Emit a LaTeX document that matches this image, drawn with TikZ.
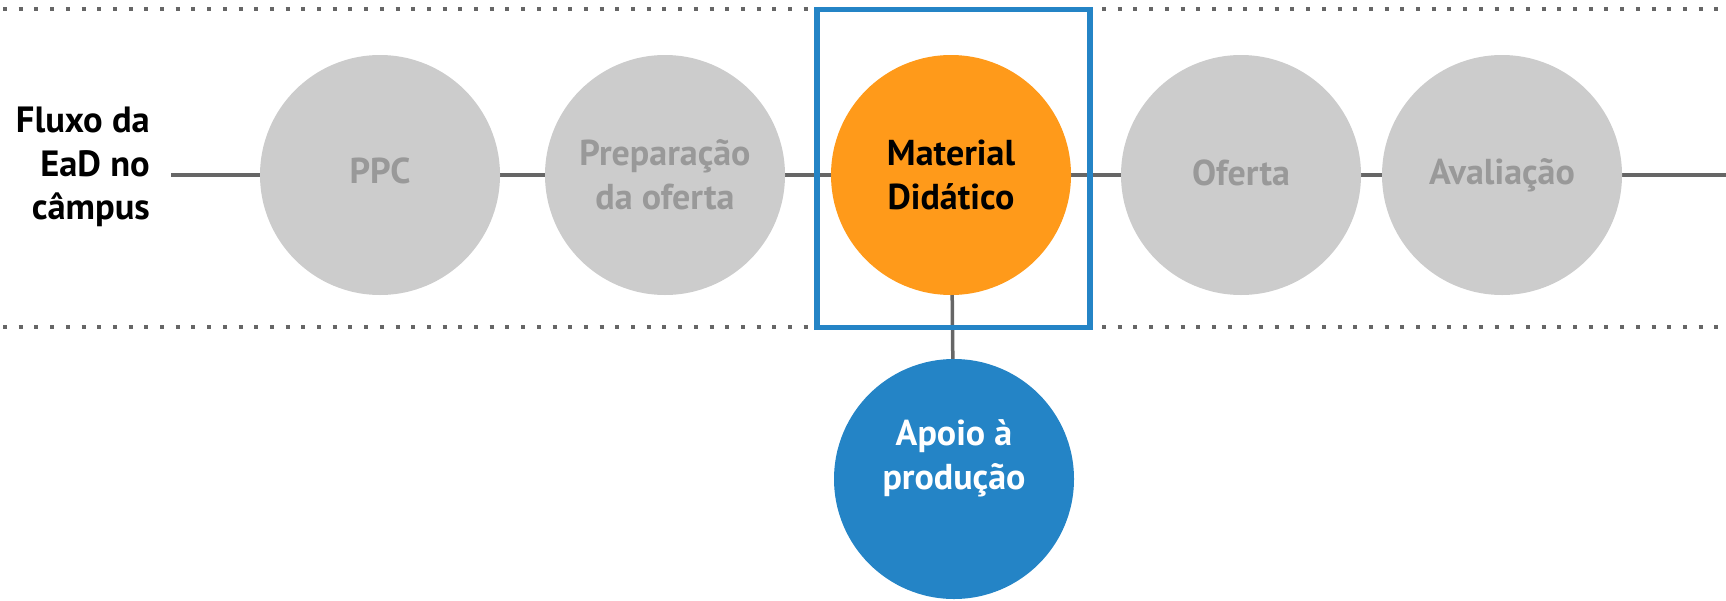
\documentclass[tikz,border=0pt]{standalone}
\usepackage{fontspec}
\setmainfont{PT Sans}
\usepackage{tikz}
\pgfdeclarelayer{bg}
\pgfsetlayers{bg,main}
\definecolor{stagegray}{HTML}{CCCCCC}
\definecolor{textgray}{HTML}{999999}
\definecolor{linegray}{HTML}{666666}
\definecolor{matorange}{HTML}{FF9A1A}
\definecolor{apoioblue}{HTML}{2484C6}
\tikzset{stage/.style={circle, fill=stagegray, text=textgray, minimum size=240pt, inner sep=0pt, align=center, font=\bfseries\fontsize{36}{44}\selectfont}}
\tikzset{current/.style={stage, fill=matorange, text=black}}
\tikzset{support/.style={stage, fill=apoioblue, text=white}}
\tikzset{flow/.style={draw=linegray, line width=3.5pt}}
\tikzset{guide/.style={draw=linegray, line width=4pt, dash pattern=on 4pt off 11.7pt, dash phase=-3pt}}

\begin{document}
\begin{tikzpicture}[x=1pt, y=-1pt]
    \useasboundingbox (0,0) rectangle (1726,600);

    \node (title) at (150,167) [anchor=east, align=right, inner sep=0pt, font=\bfseries\fontsize{36.5}{43.5}\selectfont] {Fluxo da\\EaD no\\câmpus};

    \node (ppc) at (380,175) [stage, text depth=9pt] {PPC};
    \node (prep) at (665,175) [stage] {Preparação\\da oferta};
    \node (mat) at (951,175) [current] {Material\\Didático};
    \node (ofer) at (1241,175) [stage, text depth=5pt] {Oferta};
    \node (aval) at (1502,175) [stage] {Avaliação};
    \node (apoio) at (954,479) [support, label={[text=white, align=center, font=\bfseries\fontsize{36}{44}\selectfont, yshift=21pt]center:Apoio à\\produção}] {};

    \coordinate (start) at (171,175);
    \coordinate (finish) at (1726,175);

    \begin{pgfonlayer}{bg}
        \draw[guide] (0,8.5) -- (1726,8.5);
        \draw[guide] (0,327.3) -- (1726,327.3);
        \draw[flow] (start) -- (ppc) -- (prep) -- (mat) -- (ofer) -- (aval) -- (finish);
        \draw[flow] (mat) -- (apoio);
    \end{pgfonlayer}

    \node (frame) at (953.5,168.5) [draw=apoioblue, line width=5.5pt, minimum width=273pt, minimum height=317.6pt, inner sep=0pt] {};
\end{tikzpicture}
\end{document}
